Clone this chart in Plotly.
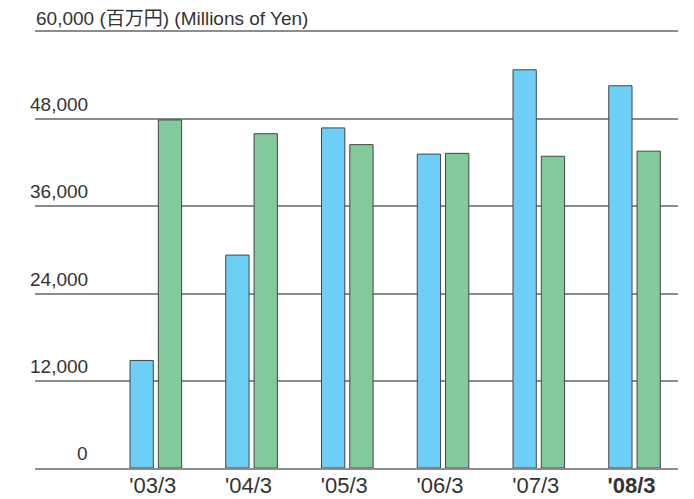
import plotly.graph_objects as go

categories = ["'03/3", "'04/3", "'05/3", "'06/3", "'07/3", "'08/3"]
tick_text = ["'03/3\u00a0", "'04/3\u00a0", "'05/3\u00a0", "'06/3\u00a0", "'07/3\u00a0", "<b>'08/3</b>\u00a0"]
blue_values = [14800, 29300, 46800, 43200, 54800, 52600]
green_values = [47900, 46000, 44500, 43300, 42900, 43600]
y_ticks = [0, 12000, 24000, 36000, 48000]
y_tick_labels = ["0", "12,000", "24,000", "36,000", "48,000"]
top_label = "60,000 (百万円) (Millions of Yen)"

FONT = "Liberation Sans, Arial, Noto Sans CJK JP, sans-serif"
TXT = "#333333"
GRID = "#8c8c8c"

fig = go.Figure()
fig.add_trace(go.Bar(x=categories, y=blue_values, marker=dict(color="#6dcff6", line=dict(color="#454545", width=1)), showlegend=False))
fig.add_trace(go.Bar(x=categories, y=green_values, marker=dict(color="#82c99b", line=dict(color="#454545", width=1)), showlegend=False))

annotations = []
for v, t in zip(y_ticks, y_tick_labels):
    annotations.append(dict(x=0.0855, xref="paper", y=v, yref="y", text=t, showarrow=False,
                            xanchor="right", yanchor="middle", yshift=14.5,
                            font=dict(family=FONT, size=19, color=TXT)))
annotations.append(dict(x=0, xref="paper", y=60000, yref="y", text=top_label, showarrow=False,
                        xanchor="left", yanchor="middle", yshift=14, xshift=-1,
                        font=dict(family=FONT, size=19, color=TXT)))

fig.update_layout(
    width=694, height=499,
    margin=dict(l=35, r=16, t=32, b=31, autoexpand=False),
    paper_bgcolor="white", plot_bgcolor="white",
    barmode="group", bargap=0.409, bargroupgap=0.177,
    annotations=annotations,
    xaxis=dict(type="category", range=[-1.262, 5.454], tickvals=categories, ticktext=tick_text,
               showgrid=False, zeroline=False, showline=True, mirror=True, linecolor=GRID, linewidth=1.5,
               ticks="", automargin=False, ticklabelstandoff=-3,
               tickfont=dict(family=FONT, size=22, color=TXT)),
    yaxis=dict(range=[0, 60000], tickvals=[0, 12000, 24000, 36000, 48000, 60000],
               showticklabels=False, showgrid=True, gridcolor=GRID, gridwidth=1.5, automargin=False,
               zeroline=False, showline=False),
)

fig.write_html("out.html", config={"displayModeBar": False},
               post_script="document.body.style.margin='0';document.body.style.overflow='hidden';")
